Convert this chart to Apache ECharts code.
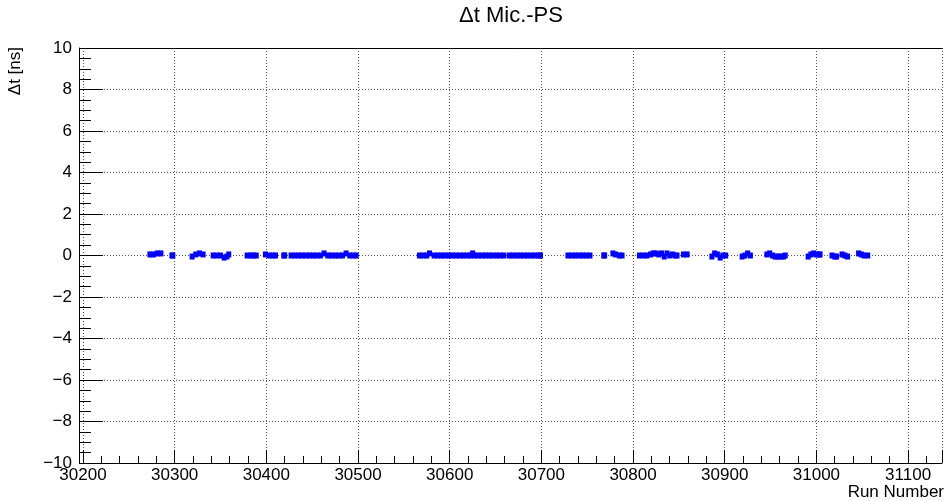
<!DOCTYPE html>
<html>
<head>
<meta charset="utf-8">
<script src="https://cdn.jsdelivr.net/npm/echarts@6/dist/echarts.min.js"></script>
<style>
  html, body { margin: 0; padding: 0; background: #fff; }
  #chart { width: 945px; height: 501px; }
</style>
</head>
<body>
<div id="chart"></div>
<script>
// Run numbers and the measured microphone - PS time difference per run
const runNumber = [
  30273, 30277, 30281, 30285,
  30297, 30298,
  30319, 30323, 30327, 30331,
  30342, 30346, 30350, 30354, 30357, 30359,
  30379, 30383, 30386, 30389,
  30399, 30403, 30407, 30410,
  30419, 30420,
  30427, 30431, 30435, 30439, 30443, 30447, 30451, 30455, 30459, 30463,
  30467, 30471, 30475, 30479, 30483, 30487, 30491, 30495, 30498,
  30567, 30571, 30575, 30578, 30583, 30587, 30591, 30595, 30599, 30603,
  30607, 30611, 30615, 30619, 30623, 30625, 30627, 30631, 30635, 30639,
  30643, 30647, 30651, 30655, 30659,
  30665, 30669, 30673, 30677, 30681, 30685, 30689, 30693, 30697, 30699,
  30729, 30733, 30737, 30741, 30745, 30749, 30753,
  30768, 30769,
  30778, 30781, 30785, 30788,
  30807, 30811, 30815, 30819, 30822, 30825, 30828, 30831, 30834, 30837,
  30840, 30843, 30846, 30848,
  30855, 30859,
  30886, 30889, 30892, 30895, 30898, 30901,
  30919, 30922, 30925, 30928,
  30946, 30949, 30952, 30955, 30958, 30961, 30964, 30966,
  30991, 30994, 30997, 31000, 31003, 31004,
  31017, 31020, 31022,
  31028, 31031, 31034,
  31046, 31049, 31052, 31056
];
const deltaT = [
  0.05, 0.05, 0.1, 0.1,
  0, 0,
  -0.05, 0.05, 0.1, 0.05,
  0, 0, 0, -0.1, -0.05, 0.05,
  0, 0, 0, 0,
  0.05, 0, 0, 0,
  0, 0,
  0, 0, 0, 0, 0, 0, 0, 0, 0, 0.1,
  0, 0, 0, 0, 0, 0.1, 0, 0, 0,
  0, 0, 0, 0.1, 0, 0, 0, 0, 0, 0,
  0, 0, 0, 0, 0, 0.1, 0, 0, 0, 0,
  0, 0, 0, 0, 0,
  0, 0, 0, 0, 0, 0, 0, 0, 0, 0,
  0, 0, 0, 0, 0, 0, 0,
  0, 0,
  0.1, 0.05, 0, 0,
  0, 0, 0, 0.05, 0.1, 0.1, 0.05, 0.1, -0.05, 0.1,
  0, 0.05, 0, 0,
  0.05, 0.05,
  -0.05, 0.1, 0.05, -0.1, 0, 0,
  -0.05, 0, 0.1, 0,
  0.05, 0.1, 0, -0.05, -0.05, -0.05, -0.05, 0,
  -0.05, 0.05, 0.1, 0.05, 0.05, 0.05,
  0, -0.05, -0.05,
  0.05, 0, -0.05,
  0.1, 0.05, 0, 0
];

const xRange = [30200, 31137];
const yRange = [-10, 10];
const chartTitle = '\u0394t Mic.-PS';
const xTitle = 'Run Number';
const yTitle = '\u0394t [ns]';

const points = runNumber.map((r, i) => [r, deltaT[i]]);
const FONT = '"Liberation Sans", Arial, Helvetica, sans-serif';
const minus = v => String(v).replace('-', '\u2212');
const gridLine = { show: true, lineStyle: { color: '#555', width: 1, type: [1, 2] } };

const chart = echarts.init(document.getElementById('chart'), null, { renderer: 'canvas' });
chart.setOption({
  animation: false,
  backgroundColor: '#ffffff',
  grid: { left: 83, right: -2, top: 48, bottom: 38, show: false },
  xAxis: [
    {
      type: 'value',
      min: xRange[0], max: xRange[1],
      interval: 100,
      axisLine: { show: true, onZero: false, lineStyle: { color: '#000', width: 1 } },
      axisTick: { show: true, inside: true, length: 13, lineStyle: { color: '#000' } },
      minorTick: { show: true, splitNumber: 5, length: 7, lineStyle: { color: '#000' } },
      axisLabel: {
        fontFamily: FONT, fontSize: 17, color: '#000', margin: 4,
        formatter: v => (v % 100 === 0 ? minus(v) : '')
      },
      splitLine: gridLine
    },
    {
      // upper edge of the frame
      type: 'value', position: 'top',
      min: xRange[0], max: xRange[1],
      axisLine: { show: true, onZero: false, lineStyle: { color: '#000', width: 1 } },
      axisTick: { show: false }, axisLabel: { show: false }, splitLine: { show: false }
    }
  ],
  yAxis: {
    type: 'value',
    min: yRange[0], max: yRange[1],
    interval: 2,
    offset: 4,
    axisLine: { show: true, onZero: false, lineStyle: { color: '#000', width: 1 } },
    axisTick: { show: true, inside: true, length: 24, lineStyle: { color: '#000' } },
    minorTick: { show: true, splitNumber: 4, length: 12, lineStyle: { color: '#000' } },
    axisLabel: {
      fontFamily: FONT, fontSize: 17, color: '#000', margin: 7,
      formatter: v => minus(v)
    },
    splitLine: gridLine
  },
  series: [{
    type: 'scatter',
    xAxisIndex: 0,
    data: points,
    symbol: 'rect',
    symbolSize: [5, 6],
    itemStyle: { color: '#0000ff', opacity: 1 },
    silent: true
  }],
  graphic: [
    {
      type: 'text', x: 511, y: 16,
      style: { text: chartTitle, font: '22px ' + FONT, fill: '#000', align: 'center', verticalAlign: 'middle' }
    },
    {
      type: 'text', x: 944, y: 492,
      style: { text: xTitle, font: '17px ' + FONT, fill: '#000', align: 'right', verticalAlign: 'middle' }
    },
    {
      type: 'text', x: 15, y: 47, rotation: Math.PI / 2,
      style: { text: yTitle, font: '17px ' + FONT, fill: '#000', align: 'right', verticalAlign: 'middle' }
    }
  ]
});
</script>
</body>
</html>
